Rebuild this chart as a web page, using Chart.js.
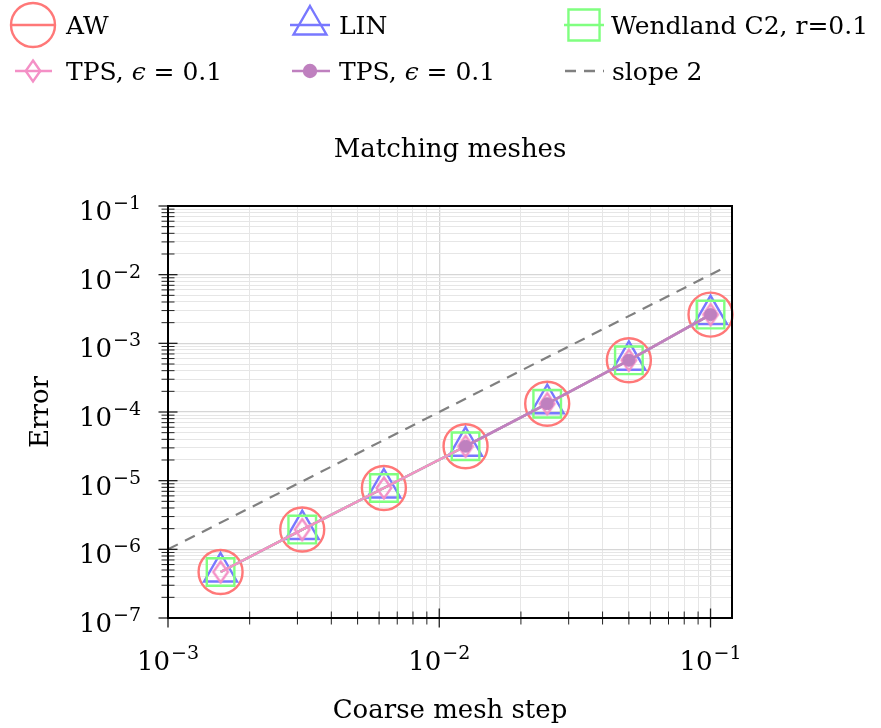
<!DOCTYPE html>
<html>
<head>
<meta charset="utf-8">
<script src="https://cdn.jsdelivr.net/npm/chart.js@4.4.1/dist/chart.umd.min.js"></script>
<style>
  body { margin: 0; background: #ffffff; }
  canvas { display: block; }
</style>
</head>
<body>
<canvas id="errorChart" width="881" height="728"></canvas>
<script>
// mesh steps (coarse) and errors
const meshStep = [0.1, 0.05, 0.025, 0.0125, 0.00625, 0.003125, 0.0015625];
const errAW = [2.62e-3, 5.66e-4, 1.32e-4, 3.17e-5, 7.82e-6, 1.94e-6, 4.68e-7];
const errLIN = [2.62e-3, 5.66e-4, 1.32e-4, 3.17e-5, 7.82e-6, 1.94e-6, 4.68e-7];
const errWendland = [2.62e-3, 5.66e-4, 1.32e-4, 3.17e-5, 7.82e-6, 1.94e-6, 4.68e-7];
const errTPS = [2.62e-3, 5.66e-4, 1.32e-4, 3.17e-5, 7.82e-6, 1.94e-6, 4.68e-7];
const meshStepTPS2 = [0.1, 0.05, 0.025, 0.0125];
const errTPS2 = [2.62e-3, 5.66e-4, 1.32e-4, 3.17e-5];
const slopeX = [1e-3, 0.115];
const slopeY = [1e-6, 1.3225e-2];

// tick decades (labels are 10^k)
const xDecades = [-3, -2, -1];
const yDecades = [-7, -6, -5, -4, -3, -2, -1];

const FONT = '"DejaVu Serif", serif';
const RED = '#ff7878', BLUE = '#7878ff', GREEN = '#80ff80', PINK = '#f490c6', PURPLE = '#bf80bf';

function toPoints(xs, ys) {
    return xs.map((x, i) => ({ x: x, y: ys[i] }));
}

function logTicks(decades, max) {
    const ticks = [];
    decades.forEach(k => {
        for (let m = 1; m <= 9; m++) {
            const v = m * Math.pow(10, k);
            if (v <= max * 1.0001) ticks.push({ value: v, major: m === 1 });
        }
    });
    return ticks;
}

// tall diamond, like the pgfplots one
function makeDiamond(color) {
    const c = document.createElement('canvas');
    c.width = 20; c.height = 26;
    const g = c.getContext('2d');
    g.strokeStyle = color;
    g.lineWidth = 2.4;
    g.beginPath();
    g.moveTo(10, 2.5);
    g.lineTo(17.3, 13);
    g.lineTo(10, 23.5);
    g.lineTo(2.7, 13);
    g.closePath();
    g.stroke();
    return c;
}
const diamond = makeDiamond(PINK);

function drawPower(ctx, exp, x, y, align) {
    ctx.font = '26px ' + FONT;
    const wBase = ctx.measureText('10').width;
    ctx.font = '19px ' + FONT;
    const sup = '\u2212' + Math.abs(exp);
    const wSup = ctx.measureText(sup).width;
    const total = wBase + wSup + 1;
    const left = align === 'right' ? x - total : x - total / 2;
    ctx.font = '26px ' + FONT;
    ctx.fillText('10', left, y);
    ctx.font = '19px ' + FONT;
    ctx.fillText(sup, left + wBase + 1, y - 11);
}

function marker(ctx, style, color, fill, r, x, y) {
    ctx.save();
    ctx.strokeStyle = color;
    ctx.fillStyle = fill;
    ctx.lineWidth = 2.4;
    Chart.helpers.drawPoint(ctx, { pointStyle: style, radius: r, rotation: 0, borderWidth: 2.4 }, x, y);
    ctx.restore();
}

function sampleLine(ctx, color, x0, x1, y, dash) {
    ctx.save();
    ctx.strokeStyle = color;
    ctx.lineWidth = 2.4;
    if (dash) ctx.setLineDash(dash);
    ctx.beginPath();
    ctx.moveTo(x0, y);
    ctx.lineTo(x1, y);
    ctx.stroke();
    ctx.restore();
}

function tpsLabel(ctx, x, y) {
    ctx.font = '25px ' + FONT;
    ctx.fillText('TPS, ', x, y);
    let w = ctx.measureText('TPS, ').width;
    ctx.font = 'italic 25px ' + FONT;
    ctx.fillText('\u03f5', x + w, y);
    w += ctx.measureText('\u03f5').width;
    ctx.font = '25px ' + FONT;
    ctx.fillText(' = 0.1', x + w, y);
}

const decorations = {
    id: 'decorations',
    afterDraw(chart) {
        const ctx = chart.ctx;
        const a = chart.chartArea;
        const xs = chart.scales.x, ys = chart.scales.y;
        ctx.save();
        ctx.fillStyle = '#000';
        ctx.textBaseline = 'alphabetic';
        ctx.textAlign = 'left';

        // tick marks, centred on the axis lines
        ctx.strokeStyle = '#222';
        ys.ticks.forEach(t => {
            const py = ys.getPixelForValue(t.value);
            const h = t.major ? 9.5 : 6.5;
            ctx.lineWidth = t.major ? 1.3 : 1;
            ctx.beginPath();
            ctx.moveTo(a.left - h, py);
            ctx.lineTo(a.left + h, py);
            ctx.stroke();
        });
        xs.ticks.forEach(t => {
            const px = xs.getPixelForValue(t.value);
            const h = t.major ? 9.5 : 6.5;
            ctx.lineWidth = t.major ? 1.3 : 1;
            ctx.beginPath();
            ctx.moveTo(px, a.bottom - h);
            ctx.lineTo(px, a.bottom + h);
            ctx.stroke();
        });

        // frame
        ctx.strokeStyle = '#000';
        ctx.lineWidth = 2;
        ctx.strokeRect(a.left, a.top, a.right - a.left, a.bottom - a.top);

        // tick labels
        yDecades.forEach(k => {
            drawPower(ctx, k, a.left - 27, ys.getPixelForValue(Math.pow(10, k)) + 14, 'right');
        });
        xDecades.forEach(k => {
            drawPower(ctx, k, xs.getPixelForValue(Math.pow(10, k)), a.bottom + 52, 'center');
        });

        // titles
        ctx.textAlign = 'center';
        ctx.font = '26px ' + FONT;
        ctx.fillText('Matching meshes', (a.left + a.right) / 2, 157);
        ctx.fillText('Coarse mesh step', (a.left + a.right) / 2, 718);
        ctx.save();
        ctx.translate(48, (a.top + a.bottom) / 2);
        ctx.rotate(-Math.PI / 2);
        ctx.fillText('Error', 0, 0);
        ctx.restore();

        // legend
        ctx.textAlign = 'left';
        const r1 = 25, r2 = 71;
        sampleLine(ctx, RED, 11, 55, r1);
        marker(ctx, 'circle', RED, 'rgba(0,0,0,0)', 22, 33, r1);
        ctx.font = '25px ' + FONT;
        ctx.fillText('AW', 66, r1 + 9);

        sampleLine(ctx, BLUE, 290, 330, r1);
        marker(ctx, 'triangle', BLUE, 'rgba(0,0,0,0)', 19, 310, r1);
        ctx.font = '25px ' + FONT;
        ctx.fillText('LIN', 339, r1 + 9);

        sampleLine(ctx, GREEN, 564, 604, r1);
        marker(ctx, 'rect', GREEN, 'rgba(0,0,0,0)', 22, 584, r1);
        ctx.font = '25px ' + FONT;
        ctx.fillText('Wendland C2, r=0.1', 611, r1 + 9);

        sampleLine(ctx, PINK, 15, 52, r2);
        ctx.drawImage(diamond, 33 - diamond.width / 2, r2 - diamond.height / 2);
        tpsLabel(ctx, 66, r2 + 9);

        sampleLine(ctx, PURPLE, 292, 330, r2);
        marker(ctx, 'circle', PURPLE, PURPLE, 6, 310, r2);
        tpsLabel(ctx, 339, r2 + 9);

        sampleLine(ctx, '#808080', 565, 604, r2, [11, 8]);
        ctx.font = '25px ' + FONT;
        ctx.fillText('slope 2', 612, r2 + 9);

        ctx.restore();
    }
};

const ctx = document.getElementById('errorChart').getContext('2d');

new Chart(ctx, {
    type: 'scatter',
    data: {
        datasets: [
            {
                label: 'AW', data: toPoints(meshStep, errAW), showLine: true, order: 4, clip: false,
                borderColor: RED, borderWidth: 2.4, pointStyle: 'circle', pointRadius: 22,
                pointBorderColor: RED, pointBackgroundColor: 'rgba(0,0,0,0)', pointBorderWidth: 2.4
            },
            {
                label: 'LIN', data: toPoints(meshStep, errLIN), showLine: true, order: 3, clip: false,
                borderColor: BLUE, borderWidth: 2.4, pointStyle: 'triangle', pointRadius: 19,
                pointBorderColor: BLUE, pointBackgroundColor: 'rgba(0,0,0,0)', pointBorderWidth: 2.4
            },
            {
                label: 'Wendland C2, r=0.1', data: toPoints(meshStep, errWendland), showLine: true, order: 2, clip: false,
                borderColor: GREEN, borderWidth: 2.4, pointStyle: 'rect', pointRadius: 19.5,
                pointBorderColor: GREEN, pointBackgroundColor: 'rgba(0,0,0,0)', pointBorderWidth: 2.4
            },
            {
                label: 'TPS, \u03f5 = 0.1', data: toPoints(meshStep, errTPS), showLine: true, order: 1, clip: false,
                borderColor: PINK, borderWidth: 2.4, pointStyle: diamond, pointRadius: 10
            },
            {
                label: 'TPS, \u03f5 = 0.1 ', data: toPoints(meshStepTPS2, errTPS2), showLine: true, order: 0, clip: false,
                borderColor: PURPLE, borderWidth: 2.6, pointStyle: 'circle', pointRadius: 6,
                pointBorderColor: PURPLE, pointBackgroundColor: PURPLE, pointBorderWidth: 1
            },
            {
                label: 'slope 2', data: toPoints(slopeX, slopeY), showLine: true, order: 5, clip: false,
                borderColor: '#808080', borderWidth: 2.2, borderDash: [11, 8], pointRadius: 0
            }
        ]
    },
    options: {
        responsive: false,
        animation: false,
        layout: { autoPadding: false, padding: { left: 168, top: 206, right: 149, bottom: 110 } },
        plugins: {
            legend: { display: false },
            title: { display: false },
            tooltip: { enabled: false }
        },
        scales: {
            x: {
                type: 'logarithmic', min: 1e-3, max: 0.12,
                afterBuildTicks: (scale) => { scale.ticks = logTicks(xDecades, 0.12); },
                ticks: { display: false },
                border: { display: false },
                grid: {
                    drawTicks: false,
                    color: (c) => c.tick && c.tick.major ? '#d6d6d6' : '#e6e6e6',
                    lineWidth: (c) => c.tick && c.tick.major ? 1.3 : 1
                }
            },
            y: {
                type: 'logarithmic', min: 1e-7, max: 1e-1,
                afterBuildTicks: (scale) => { scale.ticks = logTicks(yDecades, 1e-1); },
                ticks: { display: false },
                border: { display: false },
                grid: {
                    drawTicks: false,
                    color: (c) => c.tick && c.tick.major ? '#d6d6d6' : '#e6e6e6',
                    lineWidth: (c) => c.tick && c.tick.major ? 1.3 : 1
                }
            }
        }
    },
    plugins: [decorations]
});
</script>
</body>
</html>
